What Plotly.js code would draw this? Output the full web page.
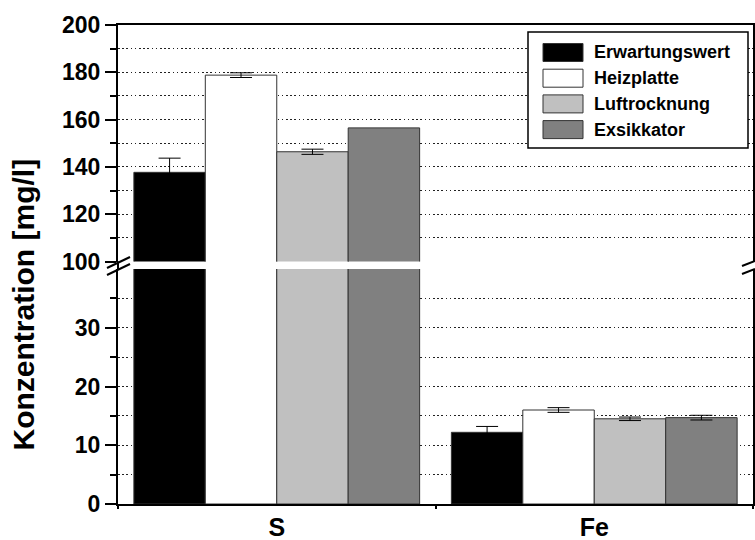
<!DOCTYPE html>
<html><head><meta charset="utf-8">
<script src="https://cdn.plot.ly/plotly-3.0.1.min.js"></script>
<style>html,body{margin:0;padding:0;background:#fff}#chart{width:755px;height:540px}</style>
</head><body><div id="chart"></div>
<script>
// ---- data ----
const categories = ['S', 'Fe'];
const seriesNames = ['Erwartungswert', 'Heizplatte', 'Luftrocknung', 'Exsikkator'];
const seriesColors = ['#000000', '#ffffff', '#c0c0c0', '#808080'];
const errorColors = ['#000000', '#000000', '#000000', '#000000'];
const valuesS = [137.7, 178.8, 146.4, 156.5];
const valuesFe = [12.2, 16.0, 14.5, 14.7];
const errorsS = [6.0, 1.0, 1.1, NaN];
const errorsFe = [1.0, 0.4, 0.3, 0.4];
const lowerTicks = [0, 10, 20, 30];
const lowerMinor = [5, 15, 25, 35];
const upperTicks = [100, 120, 140, 160, 180, 200];
const upperMinor = [110, 130, 150, 170, 190];
const yTitle = 'Konzentration [mg/l]';

// ---- layout helpers (pixel -> paper) ----
const L = 118, R = 753, T = 25, B = 504;
const px = x => (x - L) / (R - L);
const py = y => (B - y) / (B - T);
const FONT = 'Liberation Sans, Arial, sans-serif';
const gridDash = '1.5px,2.7px';
const gridCol = '#222';

const lowerDomain = [0, py(269)];
const upperDomain = [py(261.5), 1];

const traces = [];
seriesNames.forEach((name, i) => {
  const vals = [valuesS[i], valuesFe[i]];
  const errs = [errorsS[i], errorsFe[i]];
  const common = {
    type: 'bar', name: name, x: categories, y: vals, showlegend: false,
    marker: {color: seriesColors[i], line: {color: '#333', width: 1}},
    error_y: {type: 'data', array: errs, visible: true, color: errorColors[i], thickness: 1, width: 11},
    hoverinfo: 'skip'
  };
  traces.push(Object.assign({}, common, {xaxis: 'x', yaxis: 'y'}));
  traces.push(Object.assign({}, common, {xaxis: 'x2', yaxis: 'y2'}));
});

const yCommon = {
  showline: true, linecolor: '#000', linewidth: 2, mirror: true,
  ticks: 'outside', ticklen: 11, tickwidth: 2, tickcolor: '#000',
  tickfont: {family: FONT, size: 23, color: '#000', weight: 700},
  showgrid: true, gridcolor: gridCol, gridwidth: 1, griddash: gridDash,
  zeroline: false, fixedrange: true
};

const shapes = [];
// axis line through the break (left)
shapes.push({type: 'line', xref: 'paper', yref: 'paper', x0: 0, x1: 0, y0: lowerDomain[1], y1: upperDomain[0], line: {color: '#000', width: 2}});
// break marks
const brk = [
  [107, 268, 130, 257], [107, 275, 130, 264],
  [742, 266, 755, 261], [742, 274, 755, 269]
];
brk.forEach(b => shapes.push({type: 'line', xref: 'paper', yref: 'paper', x0: px(b[0]), y0: py(b[1]), x1: px(b[2]), y1: py(b[3]), line: {color: '#000', width: 2}}));

// custom legend
shapes.push({type: 'rect', xref: 'paper', yref: 'paper', x0: px(528), x1: px(748), y0: py(32), y1: py(148), line: {color: '#000', width: 1.5}, fillcolor: '#fff'});
const annotations = [];
seriesNames.forEach((name, i) => {
  const c = 52.5 + 25.7 * i;
  shapes.push({type: 'rect', xref: 'paper', yref: 'paper', x0: px(543), x1: px(583), y0: py(c - 9), y1: py(c + 9), line: {color: '#333', width: 1}, fillcolor: seriesColors[i]});
  annotations.push({xref: 'paper', yref: 'paper', x: px(592), y: py(c), xanchor: 'left', yanchor: 'middle', showarrow: false, text: name, font: {family: FONT, size: 18, color: '#000', weight: 700}});
});
annotations.push({xref: 'paper', yref: 'paper', x: px(22.5), y: py(305), xanchor: 'center', yanchor: 'middle', textangle: -90, showarrow: false, text: yTitle, font: {family: FONT, size: 30, color: '#000', weight: 700}});

const layout = {
  width: 755, height: 540,
  margin: {l: L, r: 755 - R, t: T, b: 540 - B, pad: 0},
  paper_bgcolor: '#fff', plot_bgcolor: 'rgba(0,0,0,0)',
  barmode: 'group', bargap: 0.1, bargroupgap: 0,
  showlegend: false,
  xaxis: {
    domain: [0, 1], anchor: 'y', type: 'category', range: [-0.5, 1.5],
    showline: true, linecolor: '#000', linewidth: 2,
    ticks: 'outside', tickson: 'boundaries', ticklen: 3, tickwidth: 2, tickcolor: '#000',
    tickfont: {family: FONT, size: 25, color: '#000', weight: 700},
    showgrid: false, zeroline: false, fixedrange: true
  },
  xaxis2: {
    matches: 'x', anchor: 'y2', side: 'top', type: 'category',
    showline: true, linecolor: '#000', linewidth: 2,
    ticks: '', showticklabels: false, showgrid: false, zeroline: false, fixedrange: true
  },
  yaxis: Object.assign({}, yCommon, {
    domain: lowerDomain, anchor: 'x', range: [0, 40],
    tickmode: 'array', tickvals: lowerTicks,
    minor: {tickmode: 'array', tickvals: lowerMinor, ticks: 'outside', ticklen: 6, tickwidth: 2, tickcolor: '#000', showgrid: true, gridcolor: gridCol, gridwidth: 1, griddash: gridDash}
  }),
  yaxis2: Object.assign({}, yCommon, {
    domain: upperDomain, anchor: 'x2', range: [100, 200],
    tickmode: 'array', tickvals: upperTicks,
    minor: {tickmode: 'array', tickvals: upperMinor, ticks: 'outside', ticklen: 6, tickwidth: 2, tickcolor: '#000', showgrid: true, gridcolor: gridCol, gridwidth: 1, griddash: gridDash}
  }),
  yaxis3: {
    overlaying: 'y', side: 'right', anchor: 'x', range: [0, 40],
    tickmode: 'array', tickvals: lowerTicks, ticks: 'inside', ticklen: 4, tickwidth: 1.5, tickcolor: '#000',
    minor: {tickmode: 'array', tickvals: lowerMinor, ticks: 'inside', ticklen: 4, tickwidth: 1.5, tickcolor: '#000'},
    showticklabels: false, showgrid: false, zeroline: false, showline: false, fixedrange: true
  },
  yaxis4: {
    overlaying: 'y2', side: 'right', anchor: 'x2', range: [100, 200],
    tickmode: 'array', tickvals: upperTicks, ticks: 'inside', ticklen: 4, tickwidth: 1.5, tickcolor: '#000',
    minor: {tickmode: 'array', tickvals: upperMinor, ticks: 'inside', ticklen: 4, tickwidth: 1.5, tickcolor: '#000'},
    showticklabels: false, showgrid: false, zeroline: false, showline: false, fixedrange: true
  },
  shapes: shapes,
  annotations: annotations
};

Plotly.newPlot('chart', traces, layout, {displayModeBar: false, staticPlot: true});
</script>
</body></html>
